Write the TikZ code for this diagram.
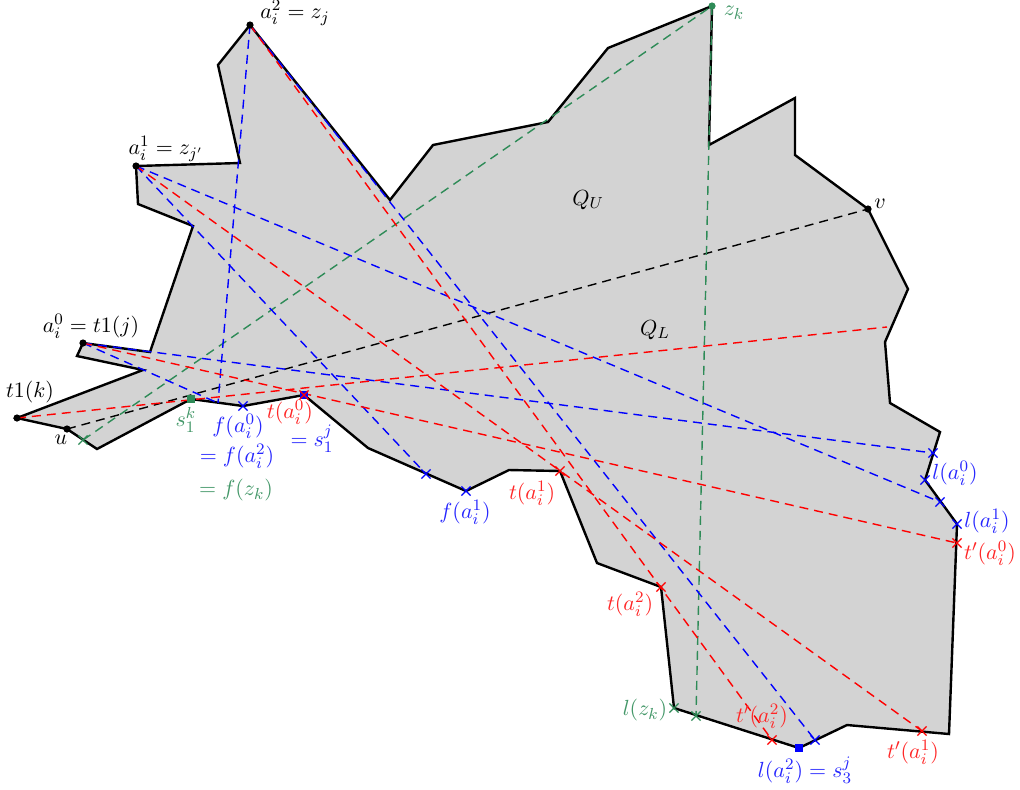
\documentclass[tikz,border=0pt]{standalone}
\usetikzlibrary{shapes.misc}
\definecolor{regionfill}{HTML}{D3D3D3}
\definecolor{zgreen}    {RGB}{46,139,87}
\tikzset{
    polyedge/.style={draw=black, fill=regionfill, line width=1.2pt, line join=miter},
    cut/.style={dashed, dash pattern=on 4.5pt off 3pt, line width=0.7pt},
    blackcut/.style={cut, black},
    bluecut/.style={cut, blue},
    redcut/.style={cut, red},
    greencut/.style={cut, zgreen},
    vdot/.style={circle, fill=black, inner sep=0pt, minimum size=3.6pt},
    gdot/.style={vdot, fill=zgreen},
    xmark/.style={cross out, draw, inner sep=0pt, minimum size=4pt, line width=0.6pt},
    bmark/.style={xmark, blue},
    rmark/.style={xmark, red},
    gmark/.style={xmark, zgreen},
    bsq/.style={rectangle, fill=blue, inner sep=0pt, minimum size=4pt},
    gsq/.style={rectangle, fill=zgreen, inner sep=0pt, minimum size=4pt},
    lbl/.style={inner sep=1pt, font=\fontsize{11}{13}\selectfont},
    blbl/.style={lbl, text=blue!85},
    rlbl/.style={lbl, text=red!85},
    glbl/.style={lbl, text=zgreen!90},
}

\begin{document}
\begin{tikzpicture}[x=0.5pt, y=-0.5pt]
    \useasboundingbox (0,0) rectangle (1020,789);
    % polygon vertices
    \coordinate (tk)  at (17,418);
    \coordinate (u)   at (67,429);
    \coordinate (a0)  at (83,343);
    \coordinate (a1)  at (136,166);
    \coordinate (a2)  at (250,25);
    \coordinate (zk)  at (712,6);
    \coordinate (v)   at (868,209);
    \coordinate (sk)  at (191,399);
    \coordinate (fa0) at (243,406);
    \coordinate (ta0) at (304,395);
    \coordinate (fa1) at (466,491);
    \coordinate (ta1) at (560,471);
    \coordinate (ta2) at (661,587);
    \coordinate (lzk) at (674,708);
    \coordinate (sj3) at (799,748);
    \coordinate (la0) at (925,480);
    \coordinate (la1) at (957,524);
    % end points of the cuts
    \coordinate (fe)  at (218,403);
    \coordinate (gu)  at (83,440);
    \coordinate (gl)  at (696,716);
    \coordinate (re)  at (887,327);
    \coordinate (bf)  at (426,474);
    \coordinate (bl0) at (933,453);
    \coordinate (bl1) at (940,502);
    \coordinate (bl2) at (815,740);
    \coordinate (tp0) at (957,543);
    \coordinate (tp1) at (922,731);
    \coordinate (tp2) at (772,740);

    \draw[polyedge] (tk) -- (143,370) -- (77,356) -- (a0) -- (150,352)
        -- (193,226) -- (138,204) -- (a1) -- (240,163) -- (218,65) -- (a2)
        -- (390,200) -- (433,145) -- (548,122) -- (608,48) -- (zk)
        -- (709,145) -- (795,98) -- (795,155) -- (v) -- (908,289)
        -- (885,342) -- (890,403) -- (940,432) -- (la0) -- (la1)
        -- (949,734) -- (847,725) -- (sj3) -- (lzk) -- (ta2) -- (597,563)
        -- (ta1) -- (509,470) -- (fa1) -- (368,448) -- (ta0) -- (fa0)
        -- (sk) -- (97,449) -- (u) -- cycle;

    % cuts
    \draw[blackcut] (u) -- (v);
    \draw[greencut] (gu) -- (zk);
    \draw[greencut] (zk) -- (gl);
    \draw[bluecut] (a0) -- (fe);
    \draw[bluecut] (a2) -- (fe);
    \draw[bluecut] (a0) -- (bl0);
    \draw[bluecut] (a1) -- (bl1);
    \draw[bluecut] (a1) -- (bf);
    \draw[bluecut] (a2) -- (bl2);
    \draw[redcut] (tk) -- (re);
    \draw[redcut] (a0) -- (tp0);
    \draw[redcut] (a1) -- (tp1);
    \draw[redcut] (a2) -- (tp2);

    % marks
    \node[bsq] (sq1) at (ta0) {};
    \node[bsq] (sq3) at (sj3) {};
    \node[gsq] (sqk) at (sk) {};
    \foreach \p in {fa0, fa1, bf, bl0, la0, bl1, la1, bl2}
        \node[bmark] at (\p) {};
    \foreach \p in {ta0, ta1, ta2, tp0, tp1, tp2}
        \node[rmark] at (\p) {};
    \foreach \p in {gu, lzk, gl}
        \node[gmark] at (\p) {};
    \foreach \p in {tk, u, a0, a1, a2, v}
        \node[vdot] at (\p) {};
    \node[gdot] (zkdot) at (zk) {};

    % labels
    \node[lbl] (ltk) at (30,392) {$t1(k)$};
    \node[lbl] (lu) at (61,440) {$u$};
    \node[lbl] (la0n) at (91,326) {$a_i^0 = t1(j)$};
    \node[lbl] (la1n) at (166,149) {$a_i^1 = z_{j'}$};
    \node[lbl] (la2n) at (295,13) {$a_i^2 = z_j$};
    \node[glbl] (lzkn) at (734,13) {$z_k$};
    \node[lbl] (lv) at (880,204) {$v$};
    \node[lbl] (lqu) at (588,200) {$Q_U$};
    \node[lbl] (lql) at (655,330) {$Q_L$};
    \node[glbl] (lsk) at (186,420) {$s_1^k$};
    \node[blbl] (lfa0) at (238,426) {$f(a_i^0)$};
    \node[blbl] (lfa2) at (237,456) {$= f(a_i^2)$};
    \node[glbl] (lfzk) at (236,490) {$= f(z_k)$};
    \node[rlbl] (lta0) at (290,412) {$t(a_i^0)$};
    \node[blbl] (lsj1) at (312,439) {$= s_1^j$};
    \node[blbl] (lfa1) at (465,512) {$f(a_i^1)$};
    \node[rlbl] (lta1) at (532,493) {$t(a_i^1)$};
    \node[rlbl] (lta2) at (630,604) {$t(a_i^2)$};
    \node[blbl] (lla0) at (955,473) {$l(a_i^0)$};
    \node[blbl] (lla1) at (987,521) {$l(a_i^1)$};
    \node[rlbl] (ltp0) at (990,553) {$t'(a_i^0)$};
    \node[glbl] (llzk) at (645,710) {$l(z_k)$};
    \node[rlbl] (ltp2) at (762,716) {$t'(a_i^2)$};
    \node[blbl] (lsj3) at (805,770) {$l(a_i^2) = s_3^j$};
    \node[rlbl] (ltp1) at (913,752) {$t'(a_i^1)$};
\end{tikzpicture}
\end{document}
